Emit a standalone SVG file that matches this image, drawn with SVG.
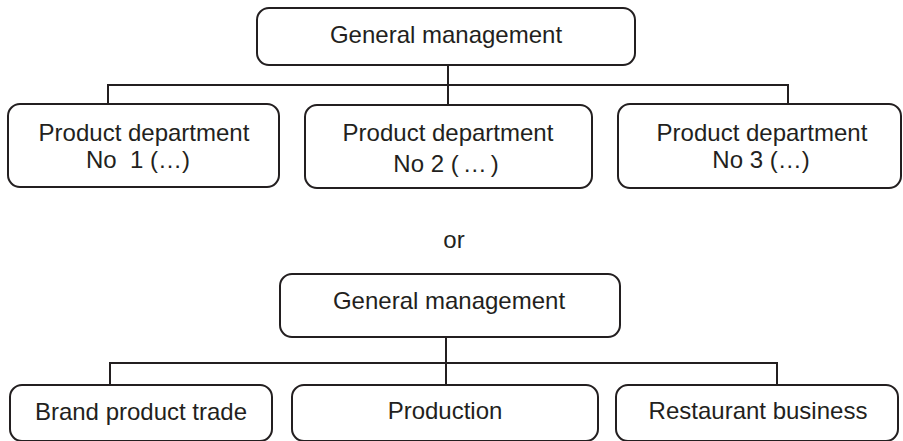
<svg xmlns="http://www.w3.org/2000/svg" width="903" height="441" viewBox="0 0 903 441">
  <style>
    .box { fill: #ffffff; stroke: #231f20; stroke-width: 2; }
    .wire { fill: none; stroke: #231f20; stroke-width: 2; }
    text { font-family: "Liberation Sans", Arial, sans-serif; font-size: 24px; fill: #231f20; text-anchor: middle; }
  </style>
  <rect width="903" height="441" fill="#ffffff"/>

  <!-- connectors -->
  <g id="connectors">
    <path class="wire" d="M448 65 V105 M108 104 V85 H788 V104"/>
    <path class="wire" d="M446 337 V385 M110 385 V363 H777 V385"/>
  </g>

  <!-- first structure -->
  <g id="gm-top">
    <rect class="box" x="257" y="8" width="378" height="57" rx="12"/>
    <text x="446" y="43">General management</text>
  </g>
  <g id="dept-1">
    <rect class="box" x="8" y="104" width="271" height="83" rx="12"/>
    <text x="144" y="141">Product department</text>
    <text x="138" y="168">No&#160;&#160;1 (…)</text>
  </g>
  <g id="dept-2">
    <rect class="box" x="305" y="105" width="287" height="83" rx="12"/>
    <text x="448" y="141">Product department</text>
    <text x="448" y="172">No 2 <tspan letter-spacing="4">(…)</tspan></text>
  </g>
  <g id="dept-3">
    <rect class="box" x="618" y="104" width="283" height="84" rx="12"/>
    <text x="762" y="141">Product department</text>
    <text x="761" y="168">No 3 (…)</text>
  </g>

  <text id="or" x="454" y="248">or</text>

  <!-- second structure -->
  <g id="gm-bottom">
    <rect class="box" x="280" y="274" width="340" height="63" rx="12"/>
    <text x="449" y="309">General management</text>
  </g>
  <g id="brand-trade">
    <rect class="box" x="10" y="385" width="262" height="56" rx="12"/>
    <text x="141" y="420">Brand product trade</text>
  </g>
  <g id="production">
    <rect class="box" x="292" y="385" width="306" height="56" rx="12"/>
    <text x="445" y="419">Production</text>
  </g>
  <g id="restaurant">
    <rect class="box" x="616" y="385" width="282" height="56" rx="12"/>
    <text x="758" y="419">Restaurant business</text>
  </g>
</svg>
